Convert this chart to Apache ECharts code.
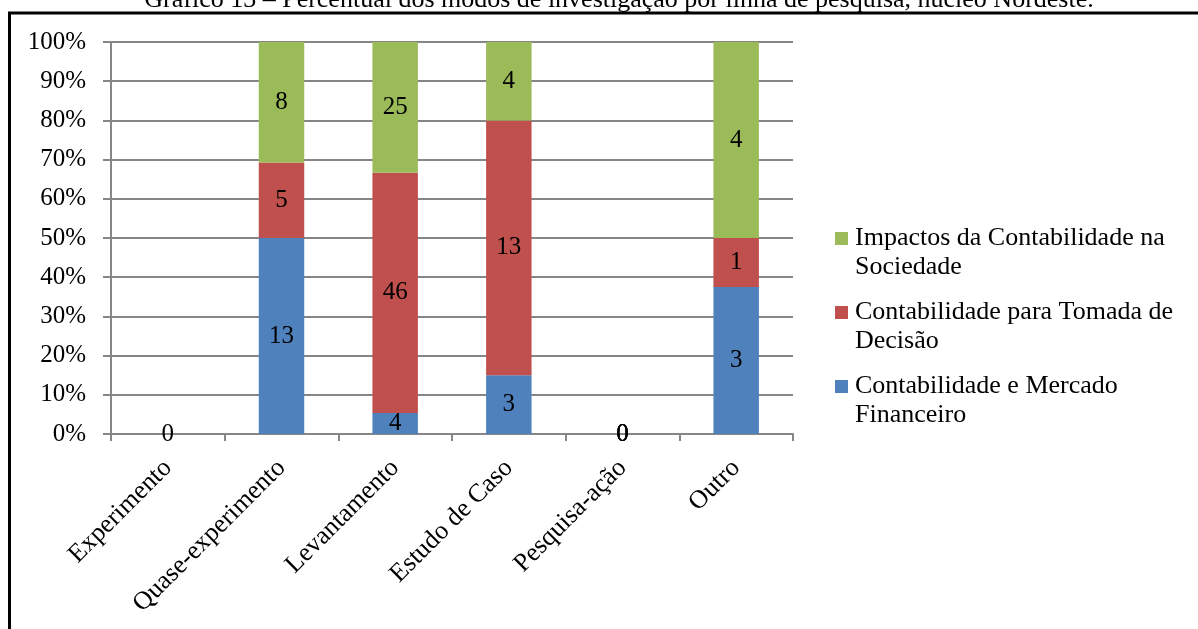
<!DOCTYPE html>
<html>
<head>
<meta charset="utf-8">
<script src="https://cdn.jsdelivr.net/npm/echarts@6/dist/echarts.min.js"></script>
<style>
html,body{margin:0;padding:0;background:#fff;}
#main{width:1198px;height:629px;}
</style>
</head>
<body>
<div id="main"></div>
<script>
var categories = ['Experimento', 'Quase-experimento', 'Levantamento', 'Estudo de Caso', 'Pesquisa-ação', 'Outro'];
var mercado = [0, 13, 4, 3, 0, 3];
var decisao = [0, 5, 46, 13, 0, 1];
var sociedade = [0, 8, 25, 4, 0, 4];
var yTicks = ['0%', '10%', '20%', '30%', '40%', '50%', '60%', '70%', '80%', '90%', '100%'];
var titleText = 'Gráfico 13 – Percentual dos modos de investigação por linha de pesquisa, núcleo Nordeste.';

var fontFamily = '"Liberation Serif", "DejaVu Serif", serif';
// quadrado da legenda alinhado com a primeira linha do texto
var legendIcon = 'path://M0,0L0,0M0,8L13,8L13,21L0,21ZM13,58L13,58';

// percentual de cada serie sobre o total da categoria
function toPercent(values){
	var out = [];
	for(var i=0;i<values.length;i++){
		var total = mercado[i] + decisao[i] + sociedade[i];
		out.push(total > 0 ? values[i] / total * 100 : 0);
	}
	return out;
}

function makeSeries(name, values, color, showZero){
	var pct = toPercent(values);
	var data = [];
	for(var i=0;i<values.length;i++){
		var item = {value: pct[i], raw: values[i]};
		if(values[i] == 0 && showZero.indexOf(i) < 0){
			item.label = {show: false};
		}
		data.push(item);
	}
	return {
		name: name,
		type: 'bar',
		stack: 'total',
		barWidth: '40%',
		itemStyle: {color: color},
		label: {
			show: true,
			position: 'inside',
			color: '#000',
			fontFamily: fontFamily,
			fontSize: 25,
			formatter: function(p){ return p.data.raw; }
		},
		emphasis: {disabled: true},
		data: data
	};
}

var myChart = echarts.init(document.getElementById('main'));

var option = {
	animation: false,
	backgroundColor: '#fff',
	grid: {
		left: 111,
		right: 405,
		top: 42,
		bottom: 195
	},
	legend: {
		orient: 'vertical',
		left: 830,
		top: 219,
		itemWidth: 13,
		itemHeight: 58,
		itemGap: 16,
		selectedMode: false,
		icon: legendIcon,
		data: ['Impactos da Contabilidade na\nSociedade', 'Contabilidade para Tomada de\nDecisão', 'Contabilidade e Mercado\nFinanceiro'],
		textStyle: {
			fontFamily: fontFamily,
			fontSize: 26,
			color: '#000',
			lineHeight: 29,
			padding: [0, 0, 0, 2]
		}
	},
	graphic: [
		{
			type: 'text',
			x: 619,
			y: -13,
			style: {
				text: titleText,
				font: '26px ' + fontFamily,
				fill: '#000',
				align: 'center'
			}
		},
		{
			type: 'rect',
			shape: {x: 9.5, y: 13, width: 1300, height: 800},
			style: {fill: 'none', stroke: '#000', lineWidth: 3},
			silent: true
		}
	],
	xAxis: {
		type: 'category',
		data: categories,
		axisLine: {lineStyle: {color: '#868686', width: 2}},
		axisTick: {show: true, length: 7, lineStyle: {color: '#868686', width: 2}},
		axisLabel: {
			rotate: 45,
			margin: 30,
			interval: 0,
			color: '#000',
			fontFamily: fontFamily,
			fontSize: 26
		}
	},
	yAxis: {
		type: 'value',
		min: 0,
		max: 100,
		interval: 10,
		axisLine: {show: true, lineStyle: {color: '#868686', width: 2}},
		axisTick: {show: true, length: 8, lineStyle: {color: '#868686', width: 2}},
		splitLine: {lineStyle: {color: '#868686', width: 2}},
		axisLabel: {
			margin: 25,
			color: '#000',
			fontFamily: fontFamily,
			fontSize: 25,
			formatter: function(v){ return yTicks[Math.round(v / 10)]; }
		}
	},
	series: [
		makeSeries('Contabilidade e Mercado\nFinanceiro', mercado, '#4F81BD', [0, 4]),
		makeSeries('Contabilidade para Tomada de\nDecisão', decisao, '#C0504D', [4]),
		makeSeries('Impactos da Contabilidade na\nSociedade', sociedade, '#9BBB59', [4])
	]
};

myChart.setOption(option);
</script>
</body>
</html>
